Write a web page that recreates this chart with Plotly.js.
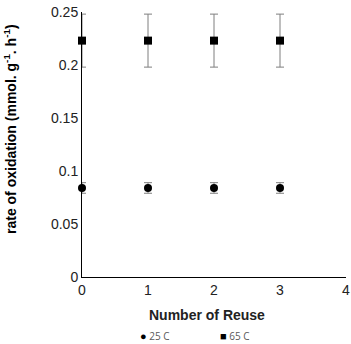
<!DOCTYPE html>
<html>
<head>
<meta charset="utf-8">
<script src="https://cdn.plot.ly/plotly-3.0.1.min.js"></script>
<style>html,body{margin:0;padding:0;background:#fff}</style>
</head>
<body>
<div id="chart" style="width:351px;height:344px"></div>
<script>
// reuse cycles and measured rates
const reuse = [0, 1, 2, 3];
const rate25 = [0.084, 0.084, 0.084, 0.084];
const err25 = [0.005, 0.005, 0.005, 0.005];
const rate65 = [0.223, 0.223, 0.223, 0.223];
const err65 = [0.025, 0.025, 0.025, 0.025];
const xTicks = [0, 1, 2, 3, 4];
const yTicks = [0, 0.05, 0.1, 0.15, 0.2, 0.25];
const yTickText = ['0', '0.05', '0.1', '0.15', '0.2', '0.25'];

const errStyle = { type: 'data', visible: true, color: '#7f7f7f', thickness: 1, width: 4 };

const data = [
  { x: reuse, y: rate25, type: 'scatter', mode: 'markers', name: '25 C',
    marker: { symbol: 'circle', size: 8, color: '#000' },
    error_y: Object.assign({ array: err25 }, errStyle), cliponaxis: false },
  { x: reuse, y: rate65, type: 'scatter', mode: 'markers', name: '65 C',
    marker: { symbol: 'square', size: 8, color: '#000' },
    error_y: Object.assign({ array: err65 }, errStyle), cliponaxis: false }
];

const legFont = { size: 10, color: '#595959', family: 'Open Sans, sans-serif' };

const layout = {
  width: 351, height: 344,
  margin: { l: 82, r: 5, t: 12, b: 67 },
  paper_bgcolor: '#fff', plot_bgcolor: '#fff',
  showlegend: false,
  font: { family: 'Liberation Sans, Arial, sans-serif', size: 14, color: '#222' },
  xaxis: { range: [0, 4], tickvals: xTicks, showgrid: false, zeroline: false,
    showline: true, linecolor: '#000', linewidth: 1, ticks: '', ticklen: 0, layer: 'above traces' },
  yaxis: { range: [0, 0.25], tickvals: yTicks, ticktext: yTickText, showgrid: false, zeroline: false,
    showline: true, linecolor: '#000', linewidth: 1, ticks: '', ticklen: 12, tickcolor: 'rgba(0,0,0,0)',
    layer: 'above traces' },
  annotations: [
    { text: '<b>rate of oxidation (mmol. g<sup>-1</sup>. h<sup>-1</sup>)</b>', xref: 'paper', yref: 'paper',
      x: -0.275, y: 0.56, textangle: -90, showarrow: false, xanchor: 'center', yanchor: 'middle',
      font: { size: 14, color: '#000' } },
    { text: '<b>Number of Reuse</b>', xref: 'paper', yref: 'paper',
      x: 0.473, y: -0.145, showarrow: false, xanchor: 'center', yanchor: 'middle',
      font: { size: 14, color: '#222' } },
    { text: '<span style="font-size:11px;color:#000">●</span> 25 C', xref: 'paper', yref: 'paper',
      x: 0.213, y: -0.222, showarrow: false, xanchor: 'left', yanchor: 'middle', font: legFont },
    { text: '<span style="font-size:11px;color:#000">■</span> 65 C', xref: 'paper', yref: 'paper',
      x: 0.515, y: -0.222, showarrow: false, xanchor: 'left', yanchor: 'middle', font: legFont }
  ]
};

Plotly.newPlot('chart', data, layout, { staticPlot: true, displayModeBar: false });
</script>
</body>
</html>
